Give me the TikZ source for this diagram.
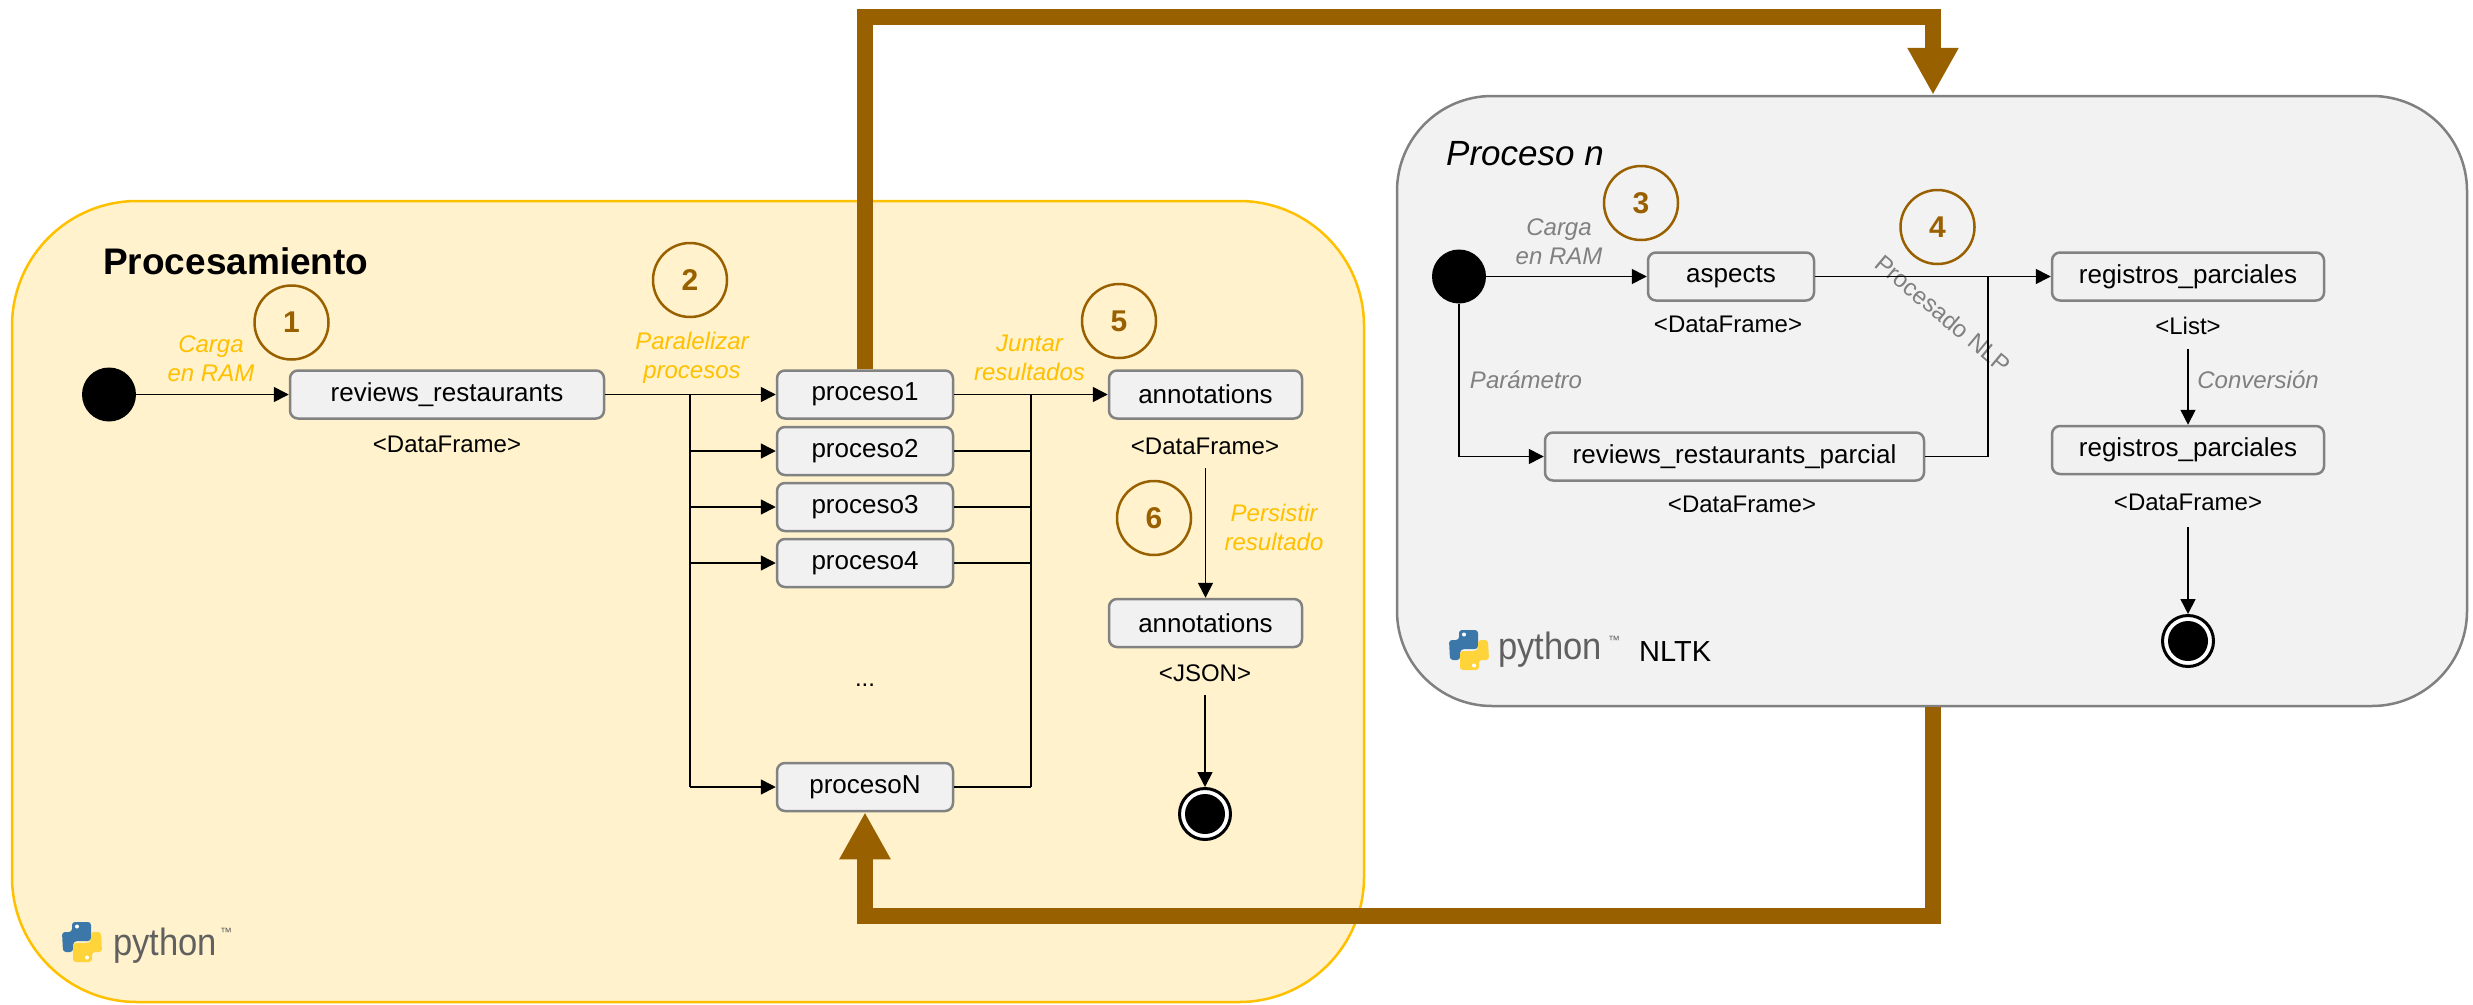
\documentclass[tikz,border=0pt]{standalone}
\usepackage{fontspec}
\usepackage{graphicx}
\setmainfont{Liberation Sans}
\usetikzlibrary{arrows.meta,calc}
\newcommand\fsz[2]{\fontsize{#1}{#2}\selectfont}
\definecolor{yfill}{HTML}{FFF2CC}
\definecolor{yline}{HTML}{FFC000}
\definecolor{ylabel}{HTML}{FFC000}
\definecolor{gfill}{HTML}{F2F2F2}
\definecolor{gline}{HTML}{808080}
\definecolor{glabel}{HTML}{808080}
\definecolor{boxfill}{HTML}{F1F1F1}
\definecolor{boxline}{HTML}{828282}
\definecolor{brownc}{HTML}{996000}
\definecolor{pyblue}{HTML}{3B77A8}
\definecolor{pyyellow}{HTML}{FFD43B}
\definecolor{pygray}{HTML}{606060}
\tikzset{
  box/.style={draw=boxline, fill=boxfill, line width=2.5pt, rounded corners=8pt,
    minimum height=48pt, inner sep=0pt, font=\fsz{26}{30}},
  typelbl/.style={font=\fsz{24}{28}, inner sep=0pt},
  ylab/.style={font=\fsz{24}{29}\itshape, text=ylabel, align=center, inner sep=0pt},
  glab/.style={font=\fsz{24}{29}\itshape, text=glabel, align=center, inner sep=0pt},
  stepnum/.style={circle, draw=brownc, line width=2.5pt, minimum size=74pt, inner sep=0pt,
    font=\fsz{30}{36}\bfseries, text=brownc},
  initdot/.style={circle, fill=black, minimum size=54pt, inner sep=0pt},
  finaldot/.style={circle, draw=black, line width=3pt, fill=white, minimum size=51pt, inner sep=0pt,
    path picture={\fill[black] (path picture bounding box.center) circle (20pt);}},
  conn/.style={line width=1.6pt, black},
  arr/.style={conn, -{Triangle[length=15pt,width=15pt]}},
  bigarr/.style={line width=16pt, brownc, -{Triangle[length=47pt,width=48pt]}},
  pytext/.style={anchor=base west, inner sep=0pt, text=pygray, font=\fsz{38}{40}},
  pytm/.style={anchor=base west, inner sep=0pt, text=pygray, font=\fsz{12}{14}},
  pics/pylogo/.style={code={
    \fill[pyblue, rounded corners=3pt] (10,0) -- (29,0) -- (29,19) -- (13,19) -- (11,21) -- (11,30) -- (1,30) -- (0,10) -- (10,10) -- cycle;
    \fill[pyyellow, rounded corners=3pt] (30,40) -- (11,40) -- (11,21) -- (27,21) -- (29,19) -- (29,10) -- (39,10) -- (40,30) -- (30,30) -- cycle;
    \fill[white] (15,4.5) circle (2pt);
    \fill[white] (25,35.5) circle (2pt);
  }},
}
\begin{document}
\begin{tikzpicture}[x=1pt,y=-1pt]
\useasboundingbox (0,0) rectangle (2473,1004);

% containers
\node[draw=yline, fill=yfill, line width=2.5pt, rounded corners=125pt, minimum width=1352pt,
  minimum height=801pt, inner sep=0pt] (procbox) at (688,601.5) {};
\node[draw=gline, fill=gfill, line width=2.5pt, rounded corners=95pt, minimum width=1070pt,
  minimum height=610pt, inner sep=0pt] (pnbox) at (1932,401) {};

% titles
\node[anchor=base west, inner sep=0pt, font=\fsz{37}{40}\bfseries] (t1) at (103,274) {Procesamiento};
\node[anchor=base west, inner sep=0pt, font=\fsz{35}{40}\itshape] (t2) at (1446,165) {Proceso n};

% ---------- left part ----------
\node[initdot] (s1) at (109,394.5) {};
\node[box, minimum width=314pt] (rr) at (447,394.5) {reviews\_restaurants};
\node[typelbl] (df1) at (447,444) {<DataFrame>};
\node[box, minimum width=176pt] (p1) at (865,394.5) {proceso1};
\node[box, minimum width=176pt] (p2) at (865,451) {proceso2};
\node[box, minimum width=176pt] (p3) at (865,507) {proceso3};
\node[box, minimum width=176pt] (p4) at (865,563) {proceso4};
\node[box, minimum width=176pt] (pN) at (865,787) {procesoN};
\node[anchor=base, inner sep=0pt, font=\fsz{24}{28}] (dots) at (865,686) {...};
\node[box, minimum width=193pt] (ann1) at (1205.5,394.5) {annotations};
\node[typelbl] (df2) at (1205,446) {<DataFrame>};
\node[box, minimum width=193pt] (ann2) at (1205.5,623) {annotations};
\node[typelbl] (json) at (1205,673) {<JSON>};
\node[finaldot] (end1) at (1205,814) {};

\node[ylab] (l1) at (211,359) {Carga\\en RAM};
\node[ylab] (l2) at (692,357.5) {Paralelizar\\procesos};
\node[ylab] (l5) at (1029.5,357.5) {Juntar\\resultados};
\node[ylab] (l6) at (1274,527.5) {Persistir\\resultado};

\node[stepnum] (n1) at (291.5,322.5) {1};
\node[stepnum] (n2) at (690,280) {2};
\node[stepnum] (n5) at (1119,321) {5};
\node[stepnum] (n6) at (1154,518) {6};

\coordinate (fork) at (690,394.5);
\coordinate (join) at (1031,394.5);
\draw[arr] (s1) -- (rr);
\draw[arr] (rr) -- (p1);
\draw[conn] (fork) -- (fork |- pN);
\foreach \p in {p2,p3,p4,pN} \draw[arr] (fork |- \p) -- (\p);
\draw[arr] (p1) -- (ann1);
\draw[conn] (join) -- (join |- pN);
\foreach \p in {p2,p3,p4,pN} \draw[conn] (\p) -- (join |- \p);
\coordinate (a1) at (1205.5,468);
\draw[arr] (a1) -- (ann2);
\coordinate (j1) at (1205,695);
\draw[arr] (j1) -- (end1);

% ---------- right part ----------
\node[initdot] (s2) at (1459,276.5) {};
\node[box, minimum width=166pt] (asp) at (1731,276.5) {aspects};
\node[typelbl] (df3) at (1728,324) {<DataFrame>};
\node[box, minimum width=379pt] (rrp) at (1734.5,456.5) {reviews\_restaurants\_parcial};
\node[typelbl] (df4) at (1742,504) {<DataFrame>};
\node[box, minimum width=272pt] (reg1) at (2188,276.5) {registros\_parciales};
\node[typelbl] (lst) at (2188,326) {<List>};
\node[box, minimum width=272pt] (reg2) at (2188,450) {registros\_parciales};
\node[typelbl] (df5) at (2188,502) {<DataFrame>};
\node[finaldot] (end2) at (2188,641) {};

\node[glab] (g1) at (1559,241.5) {Carga\\en RAM};
\node[glab] (g2) at (1526,380) {Parámetro};
\node[glab] (g3) at (2258,380) {Conversión};
\node[font=\fsz{24}{29}, text=glabel, inner sep=0pt, rotate=-40] (g4) at (1943,314) {Procesado NLP};

\node[stepnum] (n3) at (1641,203) {3};
\node[stepnum] (n4) at (1937.5,227) {4};

\coordinate (merge) at (1988,276.5);
\draw[arr] (s2) -- (asp);
\draw[arr] (asp) -- (reg1);
\draw[arr] (s2) |- (rrp);
\draw[conn] (rrp) -| (merge);
\coordinate (c1) at (2188,349);
\draw[arr] (c1) -- (reg2);
\coordinate (c2) at (2188,527);
\draw[arr] (c2) -- (end2);

% ---------- thick arrows ----------
\coordinate (tl) at (865,17);
\coordinate (tr) at (1933,17);
\draw[bigarr] (p1.north) -- (tl) -- (tr) -- (tr |- pnbox.north);
\coordinate (br) at (1933,915.5);
\draw[bigarr] (br |- pnbox.south) -- (br) -| (pN.south);

% ---------- logos ----------
\begin{scope}[shift={(62,922)}, xscale=0.85]
  \pic {pylogo};
\end{scope}
\node[pytext] (py1) at (113,955) {\scalebox{0.91}[1]{python}};
\node[pytm] (tm1) at (220,936) {™};
\begin{scope}[shift={(1449,630)}, xscale=0.95]
  \pic {pylogo};
\end{scope}
\node[pytext] (py2) at (1498,659) {\scalebox{0.91}[1]{python}};
\node[pytm] (tm2) at (1608,644) {™};
\node[anchor=base west, inner sep=0pt, font=\fsz{29}{32}] (nltk) at (1639,661) {NLTK};
\end{tikzpicture}
\end{document}
